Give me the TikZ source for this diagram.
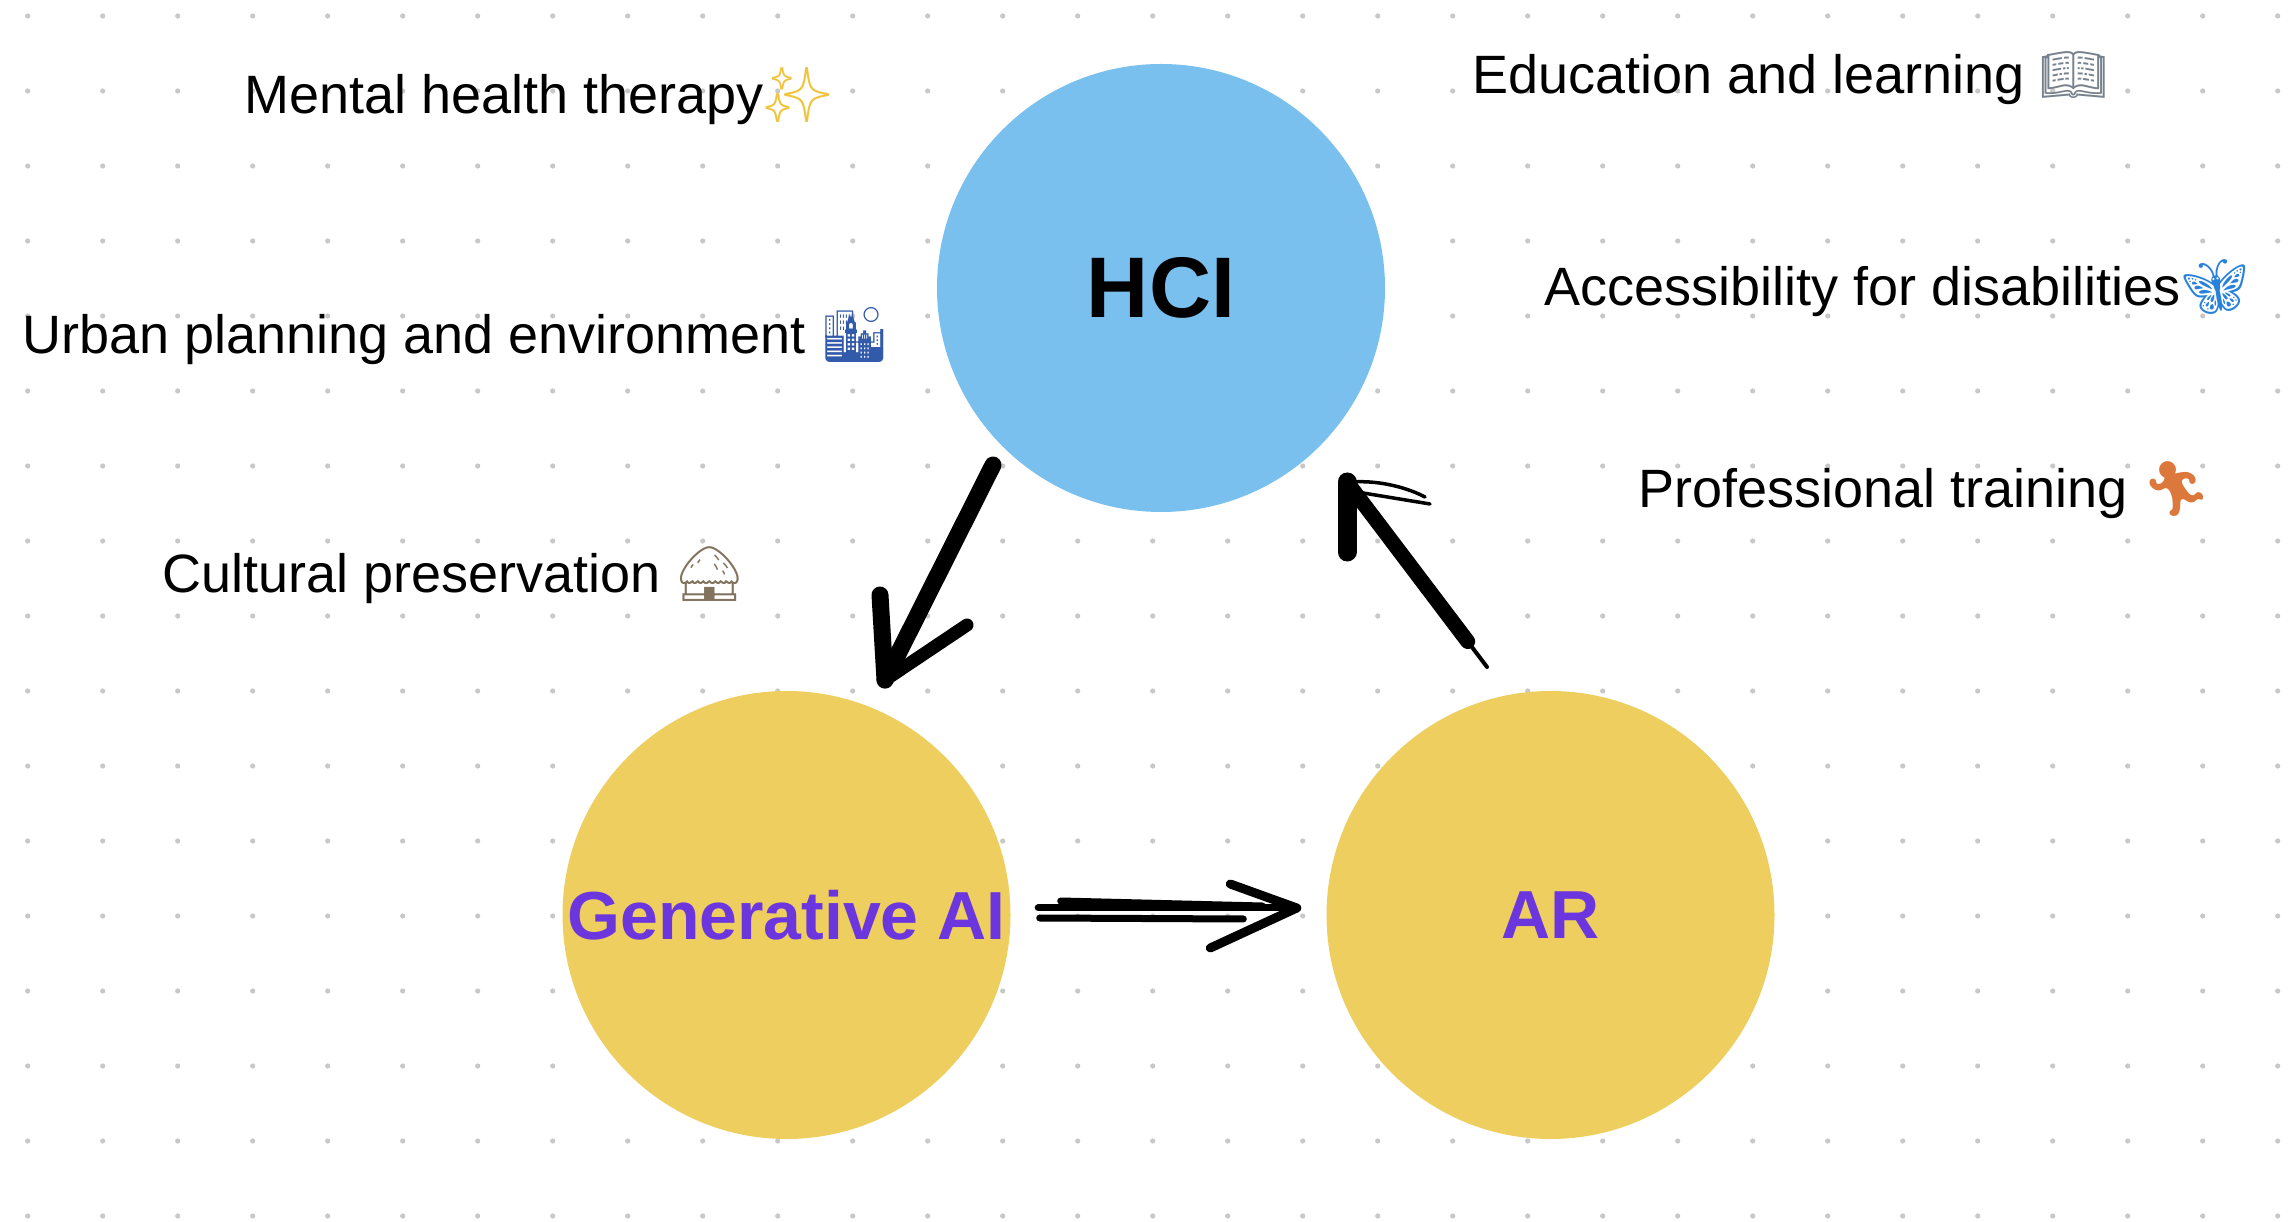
\documentclass[tikz,border=0pt]{standalone}
\usepackage{fontspec}
\setmainfont{Liberation Sans}
\newfontfamily\emoji{Noto Emoji}
\usetikzlibrary{calc}

\definecolor{hciblue}{RGB}{121,192,239}
\definecolor{bubble}{RGB}{237,206,95}
\definecolor{labelviolet}{RGB}{108,54,222}
\definecolor{griddot}{RGB}{200,200,200}
\definecolor{sparkle}{RGB}{240,196,60}
\definecolor{bookgray}{RGB}{120,130,140}
\definecolor{wingblue}{RGB}{40,130,220}
\definecolor{runner}{RGB}{220,120,60}
\definecolor{cityblue}{RGB}{50,90,170}
\definecolor{hutbrown}{RGB}{130,115,95}

\begin{document}
\begin{tikzpicture}[x=1pt,y=1pt,
  topic/.style={circle,minimum size=448pt,inner sep=0pt},
  note/.style={anchor=base west,inner sep=0pt,font=\fontsize{54}{60}\selectfont},
  ink/.style={line width=#1,line cap=round,line join=round}]
  \useasboundingbox (0,0) rectangle (2288,1221);
  \fill[white] (0,0) rectangle (2288,1221);

  \foreach \i in {0,...,30}
    \foreach \j in {0,...,16}
      \fill[griddot] (27.7+75*\i,1205-75*\j) circle (2.6);

  \node[topic,fill=hciblue,font=\fontsize{86}{90}\selectfont\bfseries] (hci) at (1161,933) {HCI};
  \node[topic,fill=bubble,text=labelviolet,font=\fontsize{68}{72}\selectfont\bfseries] (genai) at (786.5,306) {Generative AI};
  \node[topic,fill=bubble,text=labelviolet,font=\fontsize{68}{72}\selectfont\bfseries] (ar) at (1550.5,306) {AR};

  \node[note] (mental) at (244,1107) {Mental health therapy{\emoji\color{sparkle}✨}};
  \node[note] (urban) at (22,867) {Urban planning and environment {\emoji\color{cityblue}🏙}};
  \node[note] (culture) at (162,628) {Cultural preservation {\emoji\color{hutbrown}🛖}};
  \node[note] (education) at (1472,1127) {Education and learning {\emoji\color{bookgray}📖}};
  \node[note] (access) at (1544,915) {Accessibility for disabilities{\emoji\color{wingblue}🦋}};
  \node[note] (training) at (1638,713) {Professional training {\emoji\color{runner}🏃}};

  \coordinate (h2gA) at ([shift={(-168,-177)}]hci.center);
  \coordinate (h2gB) at ([shift={(98.5,235)}]genai.center);
  \draw[ink=17pt] (h2gA) -- (h2gB);
  \draw[ink=17pt] (h2gB) -- ++(-5,85);
  \draw[ink=13pt] (h2gB) -- ++(82,55);

  \coordinate (a2hA) at ([shift={(-63.5,248)}]ar.center);
  \coordinate (a2hB) at ([shift={(186,-194)}]hci.center);
  \draw[ink=4pt] (a2hA) -- (a2hB);
  \draw[ink=15pt,shorten <=32pt] (a2hA) -- (a2hB);
  \draw[ink=19pt] (a2hB) -- ++(0,-70);
  \draw[ink=3.5pt] ($(a2hB)+(5,0)$) .. controls +(30,2) and +(-15,8) .. ++(73,-15);
  \draw[ink=3.5pt] ($(a2hB)+(10,-10)$) -- ++(73,-12);

  \coordinate (g2aA) at ([shift={(27.5,7)}]genai.east);
  \coordinate (g2aB) at ([shift={(-29.5,7)}]ar.west);
  \draw[ink=7pt] (g2aA) -- (g2aB);
  \draw[ink=7pt] ([shift={(50,14)}]genai.east) -- ([shift={(-64,9)}]ar.west);
  \draw[ink=7pt] ([shift={(29,-3)}]genai.east) -- ([shift={(-83,-4)}]ar.west);
  \draw[ink=9pt] ([shift={(-96,31)}]ar.west) -- (g2aB) -- ([shift={(-116,-33)}]ar.west);
\end{tikzpicture}
\end{document}
